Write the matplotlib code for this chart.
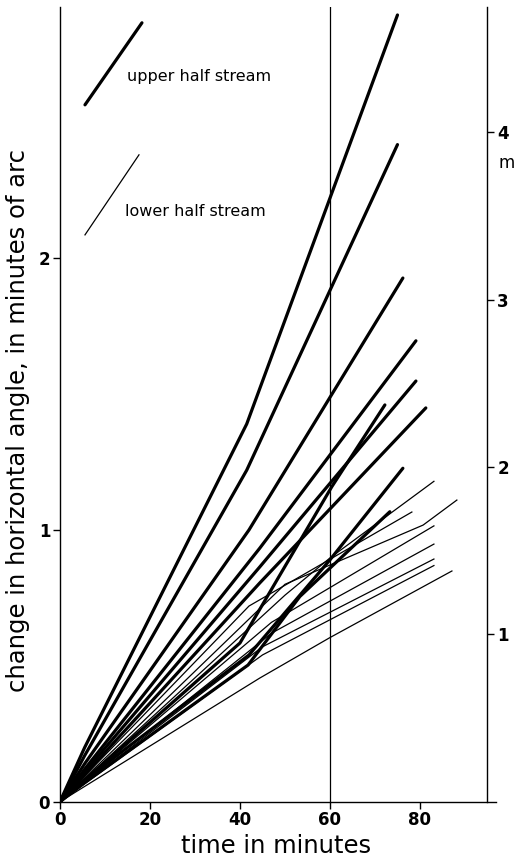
import matplotlib
matplotlib.use("Agg")
import matplotlib.pyplot as plt

plt.rcParams['font.family'] = ['DejaVu Sans']

# ---- data: upper half stream (thick lines): time (min), change in angle (min of arc)
upper_t = [
    [0, 5.5, 41.5, 75.0],
    [0, 5.5, 41.5, 75.0],
    [0, 5.5, 42.0, 76.2],
    [0, 5.5, 44.4, 79.1],
    [0, 5.5, 44.4, 79.1],
    [0, 5.5, 44.4, 81.3],
    [0, 5.5, 40.0, 60.4, 72.2],
    [0, 5.5, 42.0, 60.0, 76.2],
    [0, 5.5, 41.8, 53.3, 73.3],
]
upper_y = [
    [0, 0.20, 1.39, 2.895],
    [0, 0.17, 1.22, 2.418],
    [0, 0.14, 1.00, 1.927],
    [0, 0.12, 0.933, 1.696],
    [0, 0.11, 0.864, 1.548],
    [0, 0.10, 0.805, 1.449],
    [0, 0.08, 0.584, 1.159, 1.460],
    [0, 0.08, 0.540, 0.890, 1.227],
    [0, 0.07, 0.503, 0.755, 1.067],
]

# ---- data: lower half stream (thin lines)
lower_t = [
    [0, 50.0, 60.0, 83.1],
    [0, 50.0, 80.7, 88.2],
    [0, 42.0, 78.2],
    [0, 47.0, 83.1],
    [0, 47.0, 83.1],
    [0, 45.0, 83.1],
    [0, 45.0, 83.1],
    [0, 44.4, 60.0, 87.1],
]
lower_y = [
    [0, 0.76, 0.897, 1.179],
    [0, 0.80, 1.018, 1.110],
    [0, 0.72, 1.066],
    [0, 0.66, 1.015],
    [0, 0.62, 0.948],
    [0, 0.57, 0.893],
    [0, 0.54, 0.869],
    [0, 0.455, 0.604, 0.849],
]

x_ticks = [0, 20, 40, 60, 80]
y_ticks = [0, 1, 2]
m_ticks = [1, 2, 3, 4]
marker_time = 60
right_axis_time = 95
legend_labels = ["upper half stream", "lower half stream"]

fig = plt.figure(figsize=(5.17, 8.64), dpi=100)
ax = fig.add_axes([0.116, 0.0721, 0.8443, 0.920])
ax.set_xlim(0, 97)
ax.set_ylim(0, 2.925)

for t, y in zip(upper_t, upper_y):
    ax.plot(t, y, color='black', lw=2.3, solid_capstyle='round', solid_joinstyle='round')
for t, y in zip(lower_t, lower_y):
    ax.plot(t, y, color='black', lw=0.9)

ax.axvline(marker_time, color='black', lw=0.9)

# spines
for s in ['top', 'right']:
    ax.spines[s].set_visible(False)
ax.spines['left'].set_linewidth(1.0)
ax.spines['bottom'].set_linewidth(1.0)

ax.set_xticks(x_ticks)
ax.set_yticks(y_ticks)
ax.tick_params(axis='both', direction='out', length=5, width=1, pad=2,
               labelsize=12)
for lab in ax.get_xticklabels() + ax.get_yticklabels():
    lab.set_fontweight('bold')

ax.set_xlabel("time in minutes", fontsize=17.5)
ax.xaxis.set_label_coords(0.495, -0.041)
ax.set_ylabel("change in horizontal angle, in minutes of arc", fontsize=17.5)
ax.yaxis.set_label_coords(-0.068, 0.48)

# right axis (m)
ax2 = ax.twinx()
ax2.set_ylim(0, 4.75)
for s in ['top', 'left', 'bottom']:
    ax2.spines[s].set_visible(False)
ax2.spines['right'].set_position(('data', right_axis_time))
ax2.spines['right'].set_linewidth(1.0)
ax2.set_yticks(m_ticks)
ax2.tick_params(axis='y', direction='out', length=5, width=1, pad=2, labelsize=12)
for lab in ax2.get_yticklabels():
    lab.set_fontweight('bold')
ax2.set_ylabel("m", rotation=0, fontsize=12)
ax2.yaxis.set_label_coords(1.024, 0.815)

# legend keys
ax.plot([0.0573, 0.1878], [0.8767, 0.9799], transform=ax.transAxes,
        color='black', lw=2.3, solid_capstyle='round')
ax.plot([0.0573, 0.1810], [0.7131, 0.8138], transform=ax.transAxes,
        color='black', lw=0.9)
ax.text(0.153, 0.912, legend_labels[0], transform=ax.transAxes, fontsize=11.5,
        va='center', ha='left')
ax.text(0.149, 0.743, legend_labels[1], transform=ax.transAxes, fontsize=11.5,
        va='center', ha='left')

fig.savefig("out.png", dpi=100)
